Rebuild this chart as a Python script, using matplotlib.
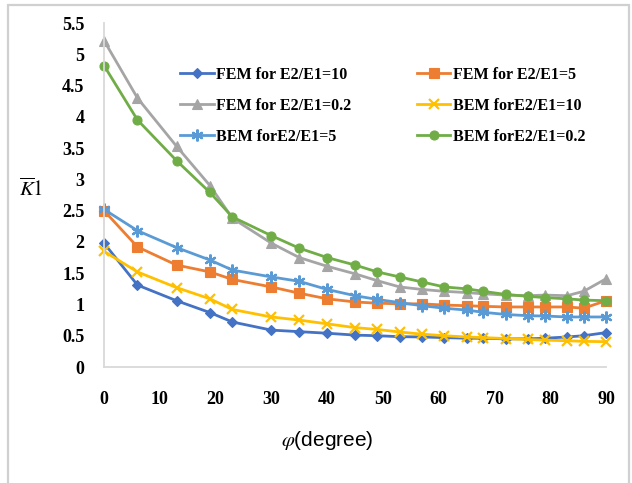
import matplotlib
matplotlib.use("Agg")
import matplotlib.pyplot as plt
from matplotlib.patches import Rectangle

# Inclination angle (degrees)
phi = [0, 6, 13, 19, 23, 30, 35, 40, 45, 49, 53, 57, 61, 65, 68, 72, 76, 79, 83, 86, 90]

# Normalised stress intensity factor K1
fem_10 = [1.98, 1.31, 1.06, 0.87, 0.72, 0.59, 0.565, 0.54, 0.51, 0.50, 0.485, 0.48,
          0.47, 0.46, 0.46, 0.45, 0.45, 0.46, 0.48, 0.50, 0.55]
fem_5 = [2.50, 1.92, 1.63, 1.52, 1.40, 1.28, 1.18, 1.09, 1.04, 1.02, 1.01, 1.01,
         0.99, 0.98, 0.97, 0.96, 0.96, 0.96, 0.96, 0.94, 1.06]
fem_02 = [5.22, 4.30, 3.53, 2.90, 2.38, 1.98, 1.75, 1.61, 1.49, 1.38, 1.28, 1.24,
          1.21, 1.19, 1.17, 1.15, 1.14, 1.15, 1.14, 1.21, 1.41]
bem_10 = [1.85, 1.52, 1.27, 1.09, 0.92, 0.80, 0.75, 0.69, 0.63, 0.60, 0.56, 0.525,
          0.50, 0.48, 0.47, 0.455, 0.44, 0.43, 0.42, 0.41, 0.405]
bem_5 = [2.52, 2.18, 1.91, 1.71, 1.55, 1.44, 1.37, 1.24, 1.14, 1.08, 1.03, 0.98,
         0.94, 0.91, 0.875, 0.84, 0.82, 0.815, 0.80, 0.80, 0.80]
bem_02 = [4.82, 3.95, 3.30, 2.79, 2.40, 2.10, 1.90, 1.75, 1.63, 1.52, 1.44, 1.36,
          1.28, 1.25, 1.21, 1.16, 1.13, 1.11, 1.09, 1.07, 1.06]

labels = ["FEM for E2/E1=10", "FEM for E2/E1=5", "FEM for E2/E1=0.2",
          "BEM forE2/E1=10", "BEM forE2/E1=5", "BEM forE2/E1=0.2"]
colors = ["#4472C4", "#ED7D31", "#A5A5A5", "#FFC000", "#5B9BD5", "#70AD47"]
markers = ["D", "s", "^", "x", (6, 2, 0), "o"]
msizes = [5.5, 7, 7.5, 7.5, 8.5, 6.5]
yticks = [0, 0.5, 1, 1.5, 2, 2.5, 3, 3.5, 4, 4.5, 5, 5.5]
ytick_labels = ["0", "0.5", "1", "1.5", "2", "2.5", "3", "3.5", "4", "4.5", "5", "5.5"]
xticks = [0, 10, 20, 30, 40, 50, 60, 70, 80, 90]

plt.rcParams["mathtext.fontset"] = "stix"

W, H = 632, 483
fig = plt.figure(figsize=(W / 100, H / 100), dpi=100)
fig.patch.set_facecolor("white")

# outer frame
fig.patches.append(Rectangle((8 / W, -0.05), (629 - 8) / W, 1 - 5 / H + 0.05,
                             transform=fig.transFigure, fill=False,
                             edgecolor="#d0d0d0", linewidth=1.6))

ax = fig.add_axes([104 / W, (H - 367) / H, 502 / W, 344 / H])

series = [fem_10, fem_5, fem_02, bem_10, bem_5, bem_02]
handles = []
for ys, lab, c, m, ms in zip(series, labels, colors, markers, msizes):
    mew = 1.6 if m in ("x", (6, 2, 0)) else 0.8
    h, = ax.plot(phi, ys, color=c, marker=m, markersize=ms, linewidth=2.0,
                 markeredgewidth=mew, markerfacecolor=c, markeredgecolor=c,
                 label=lab, clip_on=False)
    handles.append(h)

ax.set_xlim(0, 90)
ax.set_ylim(0, 5.5)
ax.set_xticks(xticks)
ax.set_yticks(yticks)
ax.set_yticklabels(ytick_labels)

for s in ["top", "right"]:
    ax.spines[s].set_visible(False)
for s in ["left", "bottom"]:
    ax.spines[s].set_color("#d9d9d9")
    ax.spines[s].set_linewidth(1.3)

ax.tick_params(axis="both", length=0)
ax.tick_params(axis="y", pad=14)
ax.tick_params(axis="x", pad=17)
for t in ax.get_xticklabels() + ax.get_yticklabels():
    t.set_fontfamily("Liberation Serif")
    t.set_fontweight("bold")
    t.set_fontsize(13)

# legend: row-wise order in two columns
order = [0, 2, 4, 1, 3, 5]
leg = ax.legend([handles[i] for i in order], [labels[i] for i in order],
                ncol=2, loc="upper left", bbox_to_anchor=(0.139, 0.892),
                frameon=False, handlelength=2.1, handletextpad=0.15,
                columnspacing=4.1, labelspacing=0.94, borderaxespad=0,
                prop={"family": "Liberation Serif", "weight": "bold", "size": 11.5})

fig.text(31 / W, 1 - 189 / H, r"$\overline{K}1$", fontsize=15,
         ha="center", va="center")
fig.text(327 / W, 1 - 440 / H, r"$\varphi$(degree)", fontsize=15,
         family="Liberation Sans", ha="center", va="center")

fig.savefig("out.png", dpi=100, facecolor="white")
